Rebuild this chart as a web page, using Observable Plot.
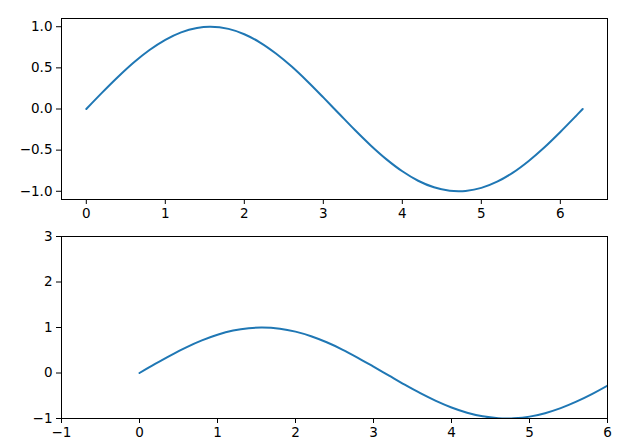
<!DOCTYPE html>
<html>
<head>
<meta charset="utf-8">
<script src="https://cdn.jsdelivr.net/npm/d3@7"></script>
<script src="https://cdn.jsdelivr.net/npm/@observablehq/plot@0.6"></script>
<style>
  html, body { margin: 0; padding: 0; background: #fff; }
  #chart { width: 628px; height: 444px; }
  #chart svg { display: block; }
</style>
</head>
<body>
<div id="chart"></div>
<script>
// Values (one period of a sine wave)
const xs = [0, 0.2, 0.4, 0.6, 0.8, 1.0, 1.2, 1.4, 1.571, 1.8, 2.0, 2.2, 2.4, 2.6, 2.8, 3.0,
            3.2, 3.4, 3.6, 3.8, 4.0, 4.2, 4.4, 4.6, 4.712, 4.8, 5.0, 5.2, 5.4, 5.6, 5.8, 6.0, 6.2, 6.283];
const ys = [0, 0.199, 0.389, 0.565, 0.717, 0.841, 0.932, 0.985, 1.0, 0.974, 0.909, 0.808, 0.675, 0.516, 0.335, 0.141,
            -0.058, -0.256, -0.443, -0.612, -0.757, -0.872, -0.952, -0.994, -1.0, -0.996, -0.959, -0.883, -0.773, -0.631, -0.465, -0.279, -0.083, 0.0];

const topXTicks = [0, 1, 2, 3, 4, 5, 6];
const topYTicks = [-1.0, -0.5, 0.0, 0.5, 1.0];
const botXTicks = [-1, 0, 1, 2, 3, 4, 5, 6];
const botYTicks = [-1, 0, 1, 2, 3];

const data = xs.map((x, i) => ({x, y: ys[i]}));

const lineColor = "#1f77b4";
const fontFamily = "DejaVu Sans, sans-serif";
const common = {
  width: 628,
  height: 222,
  marginLeft: 61,
  marginRight: 21,
  style: {fontFamily, fontSize: "13.5px", color: "#000", background: "#fff", overflow: "visible"}
};

const fmt1 = d3.format(".1f");
const fmt0 = d3.format("d");

const topChart = Plot.plot({
  ...common,
  marginTop: 18,
  marginBottom: 23,
  x: {domain: [-0.314, 6.597], ticks: topXTicks, tickSize: 5, tickPadding: 4, label: null, tickFormat: fmt0},
  y: {domain: [-1.1, 1.1], ticks: topYTicks, tickSize: 5, tickPadding: 4, label: null, tickFormat: fmt1},
  marks: [
    Plot.frame({stroke: "#000", strokeWidth: 1}),
    Plot.line(data, {x: "x", y: "y", stroke: lineColor, strokeWidth: 2, curve: "catmull-rom"})
  ]
});

const bottomChart = Plot.plot({
  ...common,
  marginTop: 14,
  marginBottom: 26,
  x: {domain: [-1, 6], ticks: botXTicks, tickSize: 5, tickPadding: 4, label: null, tickFormat: fmt0},
  y: {domain: [-1, 3], ticks: botYTicks, tickSize: 5, tickPadding: 4, label: null, tickFormat: fmt0},
  marks: [
    Plot.line(data, {x: "x", y: "y", stroke: lineColor, strokeWidth: 2, curve: "catmull-rom", clip: true}),
    Plot.frame({stroke: "#000", strokeWidth: 1})
  ]
});

const el = document.getElementById("chart");
el.appendChild(topChart);
el.appendChild(bottomChart);
</script>
</body>
</html>
